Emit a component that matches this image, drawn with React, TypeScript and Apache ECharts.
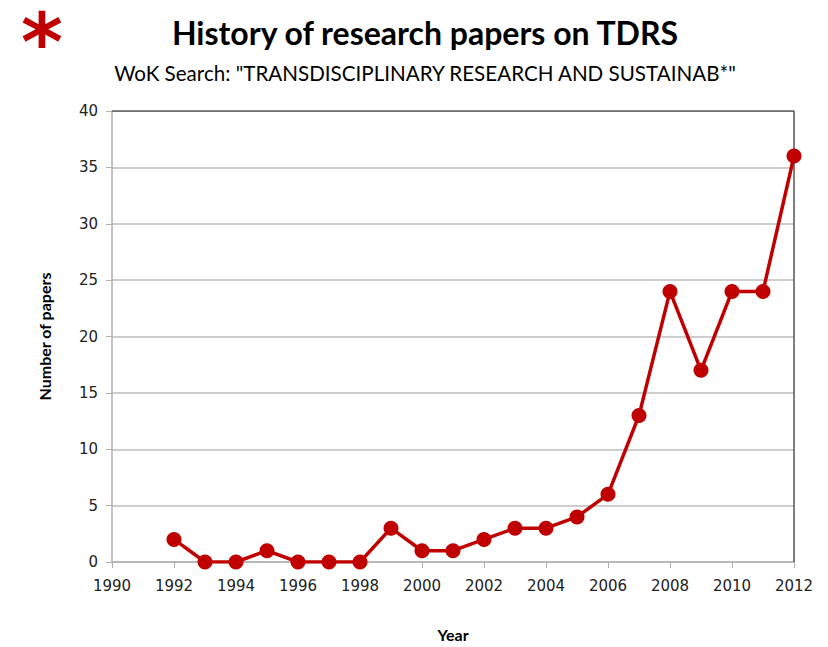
import React, { useEffect, useRef } from "react";
import * as echarts from "echarts";

const years = [1992, 1993, 1994, 1995, 1996, 1997, 1998, 1999, 2000, 2001, 2002, 2003, 2004, 2005, 2006, 2007, 2008, 2009, 2010, 2011, 2012];
const papers = [2, 0, 0, 1, 0, 0, 0, 3, 1, 1, 2, 3, 3, 4, 6, 13, 24, 17, 24, 24, 36];
const titleText = "History of research papers on TDRS";
const subtitleText = 'WoK Search: "TRANSDISCIPLINARY RESEARCH AND SUSTAINAB*"';

export default function App() {
  const ref = useRef<HTMLDivElement>(null);
  useEffect(() => {
    if (!ref.current) return;
    const chart = echarts.init(ref.current, null, { renderer: "svg" });
    const red = "#c00000";
    chart.setOption({
      animation: false,
      backgroundColor: "#ffffff",
      title: [
        {
          text: titleText,
          left: 420,
          textAlign: "center",
          top: 11,
          textStyle: { fontFamily: "Lato", fontWeight: "bold", fontSize: 32, color: "#000" },
        },
        {
          text: subtitleText,
          left: 420,
          textAlign: "center",
          top: 57,
          textStyle: { fontFamily: "Lato", fontWeight: "normal", fontSize: 20.6, color: "#000" },
        },
      ],
      graphic: [
        {
          type: "text",
          left: 21,
          top: 2,
          style: { text: "*", fill: red, font: "bold 80px 'DejaVu Sans'" },
        },
      ],
      grid: { left: 112, right: 34, top: 111, bottom: 70, show: false },
      xAxis: {
        type: "value",
        min: 1990,
        max: 2012,
        interval: 2,
        name: "Year",
        nameLocation: "middle",
        nameGap: 64,
        nameTextStyle: { fontFamily: "Lato", fontWeight: "bold", fontSize: 16, color: "#000" },
        axisLine: { show: true, lineStyle: { color: "#b0b0b0", width: 1.5 } },
        axisTick: { show: true, length: 6, lineStyle: { color: "#b0b0b0" } },
        axisLabel: {
          margin: 16,
          fontFamily: "DejaVu Sans",
          fontSize: 15,
          color: "#222",
          formatter: (v: number) => String(v),
        },
        splitLine: { show: false },
      },
      yAxis: [
        {
          type: "value",
          min: 0,
          max: 40,
          interval: 5,
          name: "Number of papers",
          nameLocation: "middle",
          nameGap: 60,
          nameRotate: 90,
          nameTextStyle: { fontFamily: "Lato", fontWeight: "bold", fontSize: 16, color: "#000" },
          axisLine: { show: true, lineStyle: { color: "#b0b0b0", width: 1.5 } },
          axisTick: { show: true, length: 6, lineStyle: { color: "#b0b0b0" } },
          axisLabel: { margin: 14, fontFamily: "DejaVu Sans", fontSize: 15, color: "#222" },
          splitLine: { show: true, lineStyle: { color: "#bcbcbc", width: 1.5 } },
        },
      ],
      series: [
        {
          type: "line",
          data: years.map((y, i) => [y, papers[i]]),
          symbol: "circle",
          symbolSize: 15,
          lineStyle: { color: red, width: 3.5 },
          itemStyle: { color: red },
          z: 5,
        },
        {
          type: "line",
          data: [[1990, 40], [2012, 40], [2012, 0]],
          symbol: "none",
          silent: true,
          lineStyle: { color: "#555", width: 1.5 },
          z: 1,
        },
      ],
    });
    return () => chart.dispose();
  }, []);
  return <div ref={ref} style={{ position: "absolute", left: 0, top: 0, width: 828, height: 647 }} />;
}
